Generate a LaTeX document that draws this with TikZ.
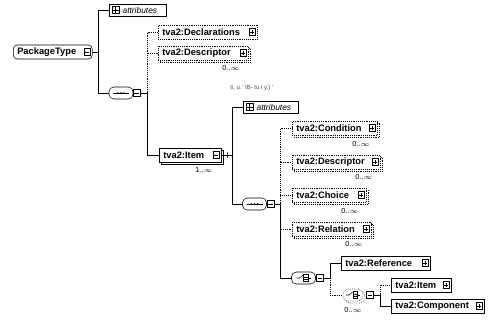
\documentclass[tikz,border=0pt]{standalone}
\usepackage{fontspec}
\setmainfont{Liberation Sans}
\usetikzlibrary{shadows}

\tikzset{
  elem/.style={draw, fill=white, anchor=west, align=left, inner xsep=3pt, inner ysep=0pt, minimum height=10.5pt, font=\fontsize{7}{8}\selectfont\bfseries},
  attrbox/.style={draw, fill=white, anchor=west, align=left, inner xsep=3pt, inner ysep=0pt, minimum height=9pt, font=\fontsize{6.3}{7}\selectfont\itshape},
  opt/.style={densely dotted},
  many/.style={copy shadow={shadow xshift=1.5pt, shadow yshift=-1.5pt}},
  compo/.style={draw, fill=white, rounded corners=3.5pt, minimum width=18pt, minimum height=9pt, inner sep=0pt},
  csq/.style={draw, fill=white, minimum size=5pt, inner sep=0pt},
  occ/.style={font=\fontsize{5.5}{6}\selectfont, inner sep=0.5pt},
  note/.style={anchor=west, font=\fontsize{4.5}{5}\selectfont, text=black!70, inner sep=0pt},
  tickmark/.style={draw, minimum width=0pt, minimum height=4pt, inner sep=0pt},
}

% small icons at the right end of a box
\newcommand{\plusicon}[1]{%
  \draw[solid, fill=white] ([xshift=-4pt]#1.east) ++(-2.5pt,-2.5pt) rectangle ++(5pt,5pt);
  \draw[solid] ([xshift=-4pt]#1.east) ++(-1.6pt,0) -- ++(3.2pt,0) ([xshift=-4pt]#1.east) ++(0,-1.6pt) -- ++(0,3.2pt);}
\newcommand{\minusicon}[1]{%
  \draw[solid, fill=white] ([xshift=-4pt]#1.east) ++(-2.5pt,-2.5pt) rectangle ++(5pt,5pt);
  \draw[solid] ([xshift=-4pt]#1.east) ++(-1.6pt,0) -- ++(3.2pt,0);}
\newcommand{\attricon}[1]{%
  \draw[fill=white] ([xshift=5pt]#1.west) ++(-2.5pt,-2.5pt) rectangle ++(5pt,5pt);
  \draw ([xshift=5pt]#1.west) ++(-2.5pt,0) -- ++(5pt,0) ([xshift=5pt]#1.west) ++(0,-2.5pt) -- ++(0,5pt);}
% compositor symbols
\newcommand{\seqsym}[1]{%
  \draw[solid] (#1.center) ++(-8,0) -- ++(16,0);
  \foreach \d in {-3,0,3} \fill (#1.center) ++(\d,0) circle (0.7pt);}
\newcommand{\choicesym}[1]{%
  \draw[solid] (#1.center) ++(-7,0) -- ++(3,0) -- ++(3.5,-3);
  \draw[solid] (#1.center) ++(0,-3.5) rectangle ++(4.5,7);
  \draw[solid] (#1.center) ++(0,-1.2) -- ++(4.5,0) (#1.center) ++(0,1.2) -- ++(4.5,0);
  \draw[solid] (#1.center) ++(4.5,0) -- ++(2.5,0);}
\newcommand{\minussq}[1]{%
  \draw ([xshift=1pt]#1.west) -- ([xshift=-1pt]#1.east);}

\begin{document}
\begin{tikzpicture}[x=0.75pt,y=0.75pt,yscale=-1,xscale=1]
\useasboundingbox (0,0) rectangle (489,321);

% root
\node[elem, rounded corners=3pt, text width=53.25pt] (pkg) at (13,52) {PackageType};
\minusicon{pkg}
\node[attrbox, text width=36.75pt] (attr1) at (109,10) {\hspace{7pt}attributes};
\attricon{attr1}
\node[compo] (seq1) at (121,93) {};
\seqsym{seq1}
\node[csq] (seq1x) at (136.5,93) {};
\minussq{seq1x}

% first sequence
\node[elem, opt, text width=68.25pt] (decl) at (158,32) {tva2:Declarations};
\plusicon{decl}
\node[elem, opt, many, text width=61.5pt] (desc1) at (158,53) {tva2:Descriptor};
\plusicon{desc1}
\node[occ] (desc1o) at (231,68) {0..$\infty$};
\node[elem, many, text width=40.5pt] (item1) at (159,155) {tva2:Item};
\minusicon{item1}
\node[occ] (item1o) at (204,170) {1..$\infty$};

% item content
\node[note] (itemnote) at (230,88) {ti, u.' IB- tu i y,) '};
\node[attrbox, text width=35.25pt] (attr2) at (243,107) {\hspace{7pt}attributes};
\attricon{attr2}
\node[compo] (seq2) at (254.5,204) {};
\seqsym{seq2}
\node[csq] (seq2x) at (270.5,204) {};
\minussq{seq2x}

% second sequence
\node[elem, opt, many, text width=57.75pt] (cond) at (292,128) {tva2:Condition};
\plusicon{cond}
\node[occ] (condo) at (361,144) {0..$\infty$};
\node[elem, opt, many, text width=60pt] (desc2) at (292,162) {tva2:Descriptor};
\plusicon{desc2}
\node[occ] (desc2o) at (364,177) {0..$\infty$};
\node[elem, opt, many, text width=49.5pt] (choice) at (292,195) {tva2:Choice};
\plusicon{choice}
\node[occ] (choiceo) at (350,211) {0..$\infty$};
\node[elem, opt, many, text width=53.25pt] (rel) at (292,229) {tva2:Relation};
\plusicon{rel}
\node[occ] (relo) at (354,244) {0..$\infty$};
\node[compo] (ch1) at (303.5,278) {};
\choicesym{ch1}
\node[csq] (ch1x) at (320,278) {};
\minussq{ch1x}

% choices
\node[elem, text width=60.75pt] (ref) at (341,263) {tva2:Reference};
\plusicon{ref}
\node[compo, opt, many, minimum width=15pt] (ch2) at (353,295) {};
\choicesym{ch2}
\node[csq] (ch2x) at (370,295) {};
\minussq{ch2x}
\node[occ] (ch2o) at (353,310) {0..$\infty$};
\node[elem, text width=39pt] (item2) at (391,285) {tva2:Item};
\plusicon{item2}
\node[elem, text width=63.75pt] (comp) at (391,306) {tva2:Component};
\plusicon{comp}

% connectors
\coordinate (b1) at (98,52);
\coordinate (b2) at (147,93);
\coordinate (b3) at (232,155);
\coordinate (b4) at (280,204);
\coordinate (b5) at (330,278);
\coordinate (b6) at (380,295);

\draw (pkg.east) -- (b1);
\draw (b1) |- (attr1.west);
\draw (b1) |- (seq1.west);
\draw (seq1x.east) -- (b2);
\draw[opt] (b2) |- (decl.west);
\draw[opt] (b2) |- (desc1.west);
\draw (b2) |- (item1.west);
\draw (item1.east) -- node[tickmark, pos=0.55] (itemtk) {} (b3);
\draw (b3) |- (attr2.west);
\draw (b3) |- (seq2.west);
\draw (seq2x.east) -- (b4);
\draw[opt] (b4) |- (cond.west);
\draw[opt] (b4) |- (desc2.west);
\draw[opt] (b4) |- (choice.west);
\draw[opt] (b4) |- (rel.west);
\draw (b4) |- (ch1.west);
\draw (ch1x.east) -- (b5);
\draw (b5) |- (ref.west);
\draw[opt] (b5) |- (ch2.west);
\draw (ch2x.east) -- (b6);
\draw[opt] (b6) |- (item2.west);
\draw (b6) |- (comp.west);

\end{tikzpicture}
\end{document}
